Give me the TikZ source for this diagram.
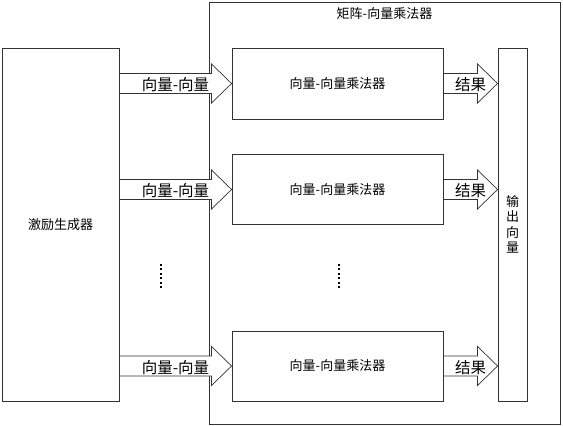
\documentclass[tikz,border=0pt]{standalone}
\usepackage{fontspec}
\newfontfamily\cjk{Noto Sans CJK SC}
\usetikzlibrary{calc}
\tikzset{
  box/.style={draw=black!80, line width=0.9pt, fill=white, inner sep=0pt, font=\cjk\fontsize{13}{15.5}\selectfont},
  fatarrow/.style={draw=black!80, line width=0.7pt, fill=white},
  biglabel/.style={font=\cjk\fontsize{15.5}{18}\selectfont, inner sep=0pt},
  dotmark/.style={fill=black, draw=none},
}
\newcommand\fatarr[2]{%
  \draw[fatarrow] ($(#1)+(0,-10)$) -- ($(#2)+(-20,-10)$) -- ($(#2)+(-20,-19.5)$) -- (#2)
    -- ($(#2)+(-20,19.5)$) -- ($(#2)+(-20,10)$) -- ($(#1)+(0,10)$) -- cycle;}
\begin{document}
\begin{tikzpicture}[x=1pt,y=-1pt]
\useasboundingbox (0,0) rectangle (563,426);
% outer container
\node[box, minimum width=351pt, minimum height=422pt] (outer) at (384.5,213) {};
\node[font=\cjk\fontsize{13}{15.5}\selectfont, inner sep=0pt] (title) at (384.5,14) {矩阵-向量乘法器};
% generator
\node[box, minimum width=117pt, minimum height=353pt] (gen) at (60.5,224.5) {激励生成器};
% multipliers
\node[box, minimum width=211pt, minimum height=71pt] (m1) at (337.5,83.5) {向量-向量乘法器};
\node[box, minimum width=211pt, minimum height=70pt] (m2) at (337.5,189.5) {向量-向量乘法器};
\node[box, minimum width=211pt, minimum height=70pt] (m3) at (337.5,366) {向量-向量乘法器};
% output
\node[box, minimum width=29pt, minimum height=353pt, align=center] (out) at (512.5,224.5) {输\\出\\向\\量};
% coordinates for arrow ends
\coordinate (a1s) at (gen.east |- m1.west);
\coordinate (a2s) at (gen.east |- m2.west);
\coordinate (a3s) at (gen.east |- m3.west);
\coordinate (r1e) at (out.west |- m1.east);
\coordinate (r2e) at (out.west |- m2.east);
\coordinate (r3e) at (out.west |- m3.east);
% input arrows
\fatarr{a1s}{m1.west}
\fatarr{a2s}{m2.west}
\fatarr{a3s}{m3.west}
% result arrows
\fatarr{m1.east}{r1e}
\fatarr{m2.east}{r2e}
\fatarr{m3.east}{r3e}
% labels
\node[biglabel] (l1) at ($(m1.west)+(-56,1.5)$) {向量-向量};
\node[biglabel] (l2) at ($(m2.west)+(-56,1.5)$) {向量-向量};
\node[biglabel] (l3) at ($(m3.west)+(-56,1.5)$) {向量-向量};
\node[biglabel] (k1) at ($(r1e)+(-27,1.5)$) {结果};
\node[biglabel] (k2) at ($(r2e)+(-27,1.5)$) {结果};
\node[biglabel] (k3) at ($(r3e)+(-27,1.5)$) {结果};
% vertical dots
\foreach \i in {0,...,5} {
  \fill[dotmark] (160,{266+4.4*\i}) rectangle +(2,-2);
  \fill[dotmark] (337.5,{266+4.4*\i}) rectangle +(2,-2);
}
\end{tikzpicture}
\end{document}
